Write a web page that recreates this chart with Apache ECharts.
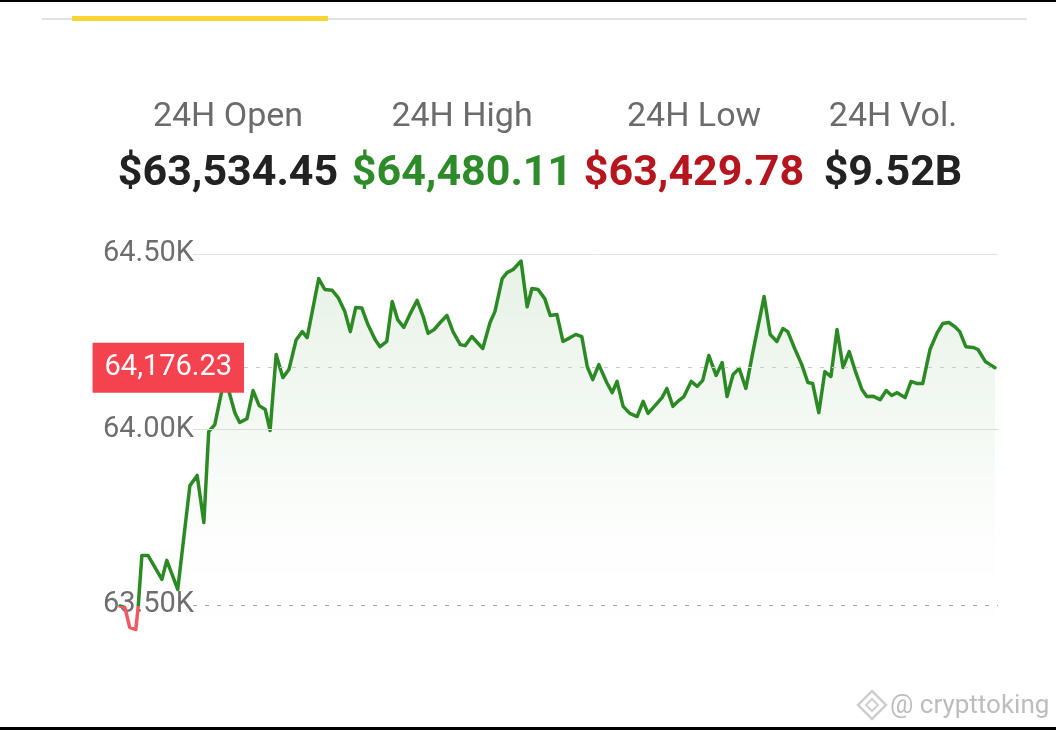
<!DOCTYPE html>
<html><head><meta charset="utf-8">
<script src="https://cdn.jsdelivr.net/npm/echarts@6/dist/echarts.min.js"></script>
<style>html,body{margin:0;padding:0;background:#fff}#c{width:1056px;height:730px}</style>
</head><body><div id="c"></div>
<script>
// ---- data ----
const statLabels = ['24H Open', '24H High', '24H Low', '24H Vol.'];
const statValues = ['$63,534.45', '$64,480.11', '$63,429.78', '$9.52B'];
const yTicks = [63500, 64000, 64500];
// minutes since start of the 24h window
const minutes = [
  0, 8, 16, 26, 30, 36, 46, 69, 77, 95,
  115, 127, 138, 146, 156, 168, 173, 189, 197, 209,
  219, 229, 239, 247, 257, 268, 278, 290, 300, 308,
  327, 337, 349, 359, 370, 379, 388, 398, 408, 420,
  428, 439, 448, 457, 467, 477, 489, 499, 507, 517,
  527, 538, 548, 560, 568, 579, 597, 609, 617, 629,
  637, 647, 660, 670, 678, 688, 699, 708, 719, 729,
  741, 750, 760, 769, 778, 788, 801, 810, 818, 828,
  839, 851, 861, 869, 882, 892, 900, 910, 918, 928,
  940, 950, 959, 969, 981, 991, 999, 1009, 1019, 1030,
  1042, 1060, 1070, 1081, 1091, 1099, 1111, 1122, 1132, 1140,
  1150, 1160, 1170, 1180, 1190, 1200, 1211, 1221, 1229, 1239,
  1251, 1261, 1270, 1279, 1292, 1302, 1312, 1321, 1333, 1345,
  1354, 1364, 1374, 1382, 1392, 1404, 1412, 1424, 1432, 1440
];
const prices = [
  63497, 63493, 63436, 63429.78, 63496, 63641, 63641, 63573, 63627, 63544,
  63840, 63869, 63735, 63994, 64014, 64114, 64148, 64048, 64020, 64031,
  64111, 64068, 64057, 63997, 64214, 64148, 64171, 64256, 64279, 64262,
  64430, 64399, 64397, 64376, 64336, 64279, 64348, 64346, 64299, 64256,
  64236, 64251, 64365, 64313, 64291, 64328, 64368, 64322, 64274, 64285,
  64305, 64325, 64279, 64242, 64239, 64265, 64231, 64305, 64336, 64430,
  64447, 64456, 64480.11, 64350, 64402, 64399, 64373, 64325, 64328, 64251,
  64262, 64271, 64265, 64179, 64142, 64185, 64134, 64105, 64137, 64066,
  64046, 64037, 64080, 64046, 64071, 64091, 64117, 64066, 64080, 64094,
  64137, 64123, 64140, 64211, 64154, 64191, 64094, 64157, 64174, 64117,
  64225, 64379, 64271, 64251, 64288, 64279, 64228, 64185, 64134, 64131,
  64048, 64165, 64151, 64285, 64177, 64222, 64162, 64114, 64094, 64095,
  64085, 64111, 64097, 64105, 64091, 64137, 64131, 64131, 64228, 64276,
  64302, 64305, 64293, 64279, 64236, 64234, 64228, 64194, 64185, 64176.23
];

// ---- chart ----
const chart = echarts.init(document.getElementById('c'), null, { renderer: 'canvas' });
const first = prices[0];
const last = prices[prices.length - 1];
const fmt = v => v.toLocaleString('en-US', { minimumFractionDigits: 2, maximumFractionDigits: 2 });
const GREEN = '#2b8a23';
const RED_LINE = '#ef5a63';

const statX = [228, 462, 694, 893];
const statColors = ['#222222', '#2e8b2a', '#b5161e', '#222222'];

const graphics = [
  { type: 'rect', shape: { x: 0, y: 0, width: 1056, height: 2 }, style: { fill: '#000' } },
  { type: 'rect', shape: { x: 0, y: 727, width: 1056, height: 3 }, style: { fill: '#000' } },
  { type: 'rect', shape: { x: 42, y: 18, width: 985, height: 2 }, style: { fill: '#e2e2e2' } },
  { type: 'rect', shape: { x: 72, y: 16, width: 256, height: 5 }, style: { fill: '#fcd535' } },
  { type: 'polygon', shape: { points: [[872, 691], [886, 705], [872, 719], [858, 705]] }, style: { fill: 'none', stroke: '#cfcfcf', lineWidth: 2.5 } },
  { type: 'polygon', shape: { points: [[872, 699], [878, 705], [872, 711], [866, 705]] }, style: { fill: 'none', stroke: '#cfcfcf', lineWidth: 2 } },
  { type: 'text', x: 890, y: 706, style: { text: '@ crypttoking', fill: '#bdbdbd', font: '26px Roboto', align: 'left', verticalAlign: 'middle' } }
];
statLabels.forEach((t, i) => {
  graphics.push({ type: 'text', x: statX[i], y: 117, style: { text: t, fill: '#6b6b6b', font: '34px Roboto', align: 'center', verticalAlign: 'middle' } });
});
statValues.forEach((t, i) => {
  graphics.push({ type: 'text', x: statX[i], y: 174, style: { text: t, fill: statColors[i], font: 'bold 43px Roboto', align: 'center', verticalAlign: 'middle' } });
});

const option = {
  animation: false,
  grid: { left: 120, right: 61, top: 219, bottom: 90 },
  xAxis: { type: 'value', min: 0, max: 1440, show: false },
  yAxis: {
    type: 'value', min: 63400, max: 64600, interval: 100,
    axisLine: { show: false }, axisTick: { show: false }, splitLine: { show: false },
    axisLabel: {
      align: 'left', margin: 17, fontFamily: 'Roboto', fontSize: 29, color: '#6e6e6e',
      formatter: v => yTicks.includes(v) ? (v / 1000).toFixed(2) + 'K' : ''
    }
  },
  visualMap: {
    show: false, type: 'piecewise', dimension: 1, seriesIndex: 0,
    pieces: [{ min: 63000, max: first, color: RED_LINE }, { min: first, max: 65000, color: GREEN }]
  },
  graphic: graphics,
  series: [{
    type: 'line',
    data: minutes.map((m, i) => [m, prices[i]]),
    symbol: 'none',
    lineStyle: { width: 3.5, join: 'round', cap: 'round' },
    areaStyle: {
      origin: 'start',
      color: new echarts.graphic.LinearGradient(0, 0, 0, 1, [
        { offset: 0, color: 'rgba(43,138,35,0.16)' },
        { offset: 0.45, color: 'rgba(43,138,35,0.07)' },
        { offset: 0.75, color: 'rgba(43,138,35,0.01)' },
        { offset: 1, color: 'rgba(43,138,35,0)' }
      ])
    },
    markLine: {
      silent: true, symbol: ['none', 'none'], animation: false,
      data: [
        [{ x: 193, yAxis: yTicks[2], lineStyle: { color: '#e3e3e3', width: 1, type: 'solid' }, label: { show: false } }, { x: 998, yAxis: yTicks[2] }],
        [{ x: 193, yAxis: yTicks[1], lineStyle: { color: '#dcdcdc', width: 1, type: 'solid' }, label: { show: false } }, { x: 998, yAxis: yTicks[1] }],
        [{ x: 193, yAxis: yTicks[0], lineStyle: { color: '#a6a6a6', width: 1.2, type: [4, 8] }, label: { show: false } }, { x: 998, yAxis: yTicks[0] }],
        [{
          x: 244, yAxis: last, lineStyle: { color: '#cacaca', width: 1, type: [4, 8] },
          label: {
            show: true, position: 'start', distance: 0, formatter: fmt(last),
            color: '#fff', fontFamily: 'Roboto', fontSize: 29, lineHeight: 32,
            backgroundColor: '#f4434f', padding: [9, 12, 9, 12], borderRadius: 0
          }
        }, { x: 998, yAxis: last }]
      ]
    }
  }]
};
chart.setOption(option);
</script>
</body></html>
